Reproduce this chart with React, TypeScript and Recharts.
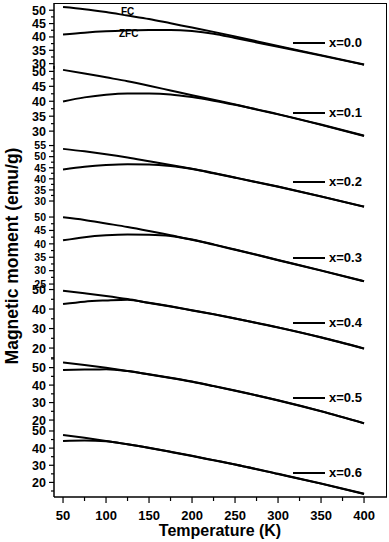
import React from 'react';
import { LineChart, Line, XAxis, YAxis } from 'recharts';

// temperature grid (K) shared by all samples
const temperature = [50, 75, 100, 125, 150, 175, 200, 225, 250, 300, 350, 400];

// magnetic moment (emu/g), FC and ZFC branches per composition
const fc0 = [51.2, 50.4, 49.3, 48.0, 46.7, 45.1, 43.5, 41.9, 40.2, 36.6, 33.2, 29.7];
const zfc0 = [40.9, 41.6, 42.1, 42.4, 42.6, 42.6, 42.2, 41.2, 39.6, 36.3, 33.0, 29.6];

const fc1 = [50.5, 49.3, 48.0, 46.7, 45.2, 43.6, 42.0, 40.5, 38.9, 35.7, 32.2, 28.5];
const zfc1 = [39.9, 41.3, 42.2, 42.6, 42.6, 42.3, 41.4, 40.2, 38.8, 35.6, 32.1, 28.4];

const fc2 = [53.5, 52.4, 51.1, 49.6, 47.9, 46.2, 44.5, 42.6, 40.6, 36.5, 32.1, 27.5];
const zfc2 = [44.2, 45.4, 46.2, 46.6, 46.5, 45.8, 44.4, 42.5, 40.5, 36.4, 32.0, 27.4];

const fc3 = [49.9, 48.9, 47.6, 46.3, 44.8, 43.2, 41.6, 39.8, 37.9, 34.0, 30.1, 26.1];
const zfc3 = [41.3, 42.5, 43.2, 43.5, 43.4, 42.9, 41.5, 39.7, 37.8, 33.9, 30.0, 26.0];

const fc4 = [49.4, 48.1, 46.7, 45.1, 43.2, 41.4, 39.4, 37.4, 35.2, 30.6, 25.5, 19.8];
const zfc4 = [42.6, 43.8, 44.4, 44.8, 43.1, 41.3, 39.3, 37.3, 35.1, 30.5, 25.4, 19.7];

const fc5 = [52.9, 51.5, 49.9, 48.1, 46.2, 44.2, 42.0, 39.5, 36.9, 31.3, 25.1, 18.2];
const zfc5 = [48.7, 48.9, 49.0, 48.0, 46.1, 44.1, 41.9, 39.4, 36.8, 31.2, 25.0, 18.1];

const fc6 = [47.7, 46.0, 44.2, 42.3, 40.2, 37.9, 35.5, 33.0, 30.5, 25.0, 19.4, 13.4];
const zfc6 = [44.2, 44.4, 44.0, 42.2, 40.1, 37.8, 35.4, 32.9, 30.4, 24.9, 19.3, 13.3];

const sampleLabels = ['x=0.0', 'x=0.1', 'x=0.2', 'x=0.3', 'x=0.4', 'x=0.5', 'x=0.6'];

// axis ticks
const yTicks0 = [30, 32.5, 35, 37.5, 40, 42.5, 45, 47.5, 50];
const yTicks1 = [30, 32.5, 35, 37.5, 40, 42.5, 45, 47.5, 50];
const yTicks2 = [30, 32.5, 35, 37.5, 40, 42.5, 45, 47.5, 50, 52.5, 55];
const yTicks3 = [25, 27.5, 30, 32.5, 35, 37.5, 40, 42.5, 45, 47.5, 50];
const yTicks4 = [15, 20, 25, 30, 35, 40, 45, 50];
const yTicks5 = [20, 25, 30, 35, 40, 45, 50, 55];
const yTicks6 = [15, 20, 25, 30, 35, 40, 45, 50];
const xTicks = [50, 75, 100, 125, 150, 175, 200, 225, 250, 275, 300, 325, 350, 375, 400];

const fcSeries = [fc0, fc1, fc2, fc3, fc4, fc5, fc6];
const zfcSeries = [zfc0, zfc1, zfc2, zfc3, zfc4, zfc5, zfc6];
const yTickSets = [yTicks0, yTicks1, yTicks2, yTicks3, yTicks4, yTicks5, yTicks6];
const majorSteps = [5, 5, 5, 5, 10, 10, 10];

// layout (pixels) per panel
const layout = [
  { top: 0, height: 66, mt: 3, domain: [28.0, 52.7], font: 12.5, legendY: 40 },
  { top: 66, height: 72, mt: 0, domain: [27.7, 51.8], font: 12.5, legendY: 47 },
  { top: 138, height: 71, mt: 0, domain: [26.4, 58.4], font: 10.5, legendY: 44 },
  { top: 209, height: 78, mt: 0, domain: [23.9, 53.0], font: 10.5, legendY: 49 },
  { top: 287, height: 71, mt: 0, domain: [14.9, 51.3], font: 12.5, legendY: 36 },
  { top: 358, height: 68, mt: 0, domain: [16.6, 55.5], font: 12.5, legendY: 40 },
  { top: 426, height: 71, mt: 0, domain: [11.5, 52.9], font: 12.5, legendY: 47 },
];

const X_DOMAIN = [39.5, 426.7];
const W = 389;
const AXIS_W = 54;
const TICK = 5;
const TICK_MARGIN = 3;
const X_AXIS_H = 45;
const FONT = '"Liberation Sans", Arial, sans-serif';

const YTick = (props: any) => {
  const { x, y, payload, major, fontSize } = props;
  const ax = x + TICK + TICK_MARGIN;
  const isMajor = Math.abs(payload.value % major) < 1e-6;
  return (
    <g>
      <line x1={ax} x2={ax - (isMajor ? 5 : 3)} y1={y} y2={y} stroke="#000" strokeWidth={1.2} />
      {isMajor && (
        <text x={ax - 8} y={y} dy="0.36em" textAnchor="end" fontSize={fontSize} fontWeight="bold" fontFamily={FONT} fill="#000">
          {payload.value}
        </text>
      )}
    </g>
  );
};

const XTick = (props: any) => {
  const { x, y, payload } = props;
  const ay = y - TICK - TICK_MARGIN;
  const isMajor = payload.value % 50 === 0;
  return (
    <g>
      <line x1={x} x2={x} y1={ay} y2={ay + (isMajor ? 6 : 4)} stroke="#000" strokeWidth={1.2} />
      {isMajor && (
        <text x={x} y={ay + 18} dy="0.36em" textAnchor="middle" fontSize={13} fontWeight="bold" fontFamily={FONT} fill="#000">
          {payload.value}
        </text>
      )}
    </g>
  );
};

const Panel = ({ i }: { i: number }) => {
  const L = layout[i];
  const last = i === layout.length - 1;
  const data = temperature.map((t, k) => ({ t, fc: fcSeries[i][k], zfc: zfcSeries[i][k] }));
  const height = L.height + L.mt + (last ? X_AXIS_H : 0);
  return (
    <div style={{ position: 'absolute', left: 0, top: L.top, width: W, height }}>
      <LineChart width={W} height={height} data={data} margin={{ top: L.mt, right: 2, bottom: 0, left: 0 }}>
        <XAxis
          type="number"
          dataKey="t"
          domain={X_DOMAIN}
          allowDataOverflow
          ticks={xTicks}
          interval={0}
          hide={!last}
          height={X_AXIS_H}
          tickSize={TICK}
          tickMargin={TICK_MARGIN}
          tickLine={false}
          axisLine={{ stroke: '#000', strokeWidth: 1.5 }}
          tick={(p: any) => <XTick {...p} />}
        />
        <YAxis
          type="number"
          domain={L.domain}
          allowDataOverflow
          ticks={yTickSets[i]}
          interval={0}
          width={AXIS_W}
          tickSize={TICK}
          tickMargin={TICK_MARGIN}
          tickLine={false}
          axisLine={{ stroke: '#000', strokeWidth: 1.5 }}
          tick={(p: any) => <YTick {...p} major={majorSteps[i]} fontSize={L.font} />}
        />
        <Line type="monotone" dataKey="fc" stroke="#000" strokeWidth={2} dot={false} isAnimationActive={false} />
        <Line type="monotone" dataKey="zfc" stroke="#000" strokeWidth={2} dot={false} isAnimationActive={false} />
      </LineChart>
      <div style={{ position: 'absolute', left: 293, top: L.legendY + L.mt - 1, width: 32, height: 2, background: '#000' }} />
      <div style={{ position: 'absolute', left: 329, top: L.legendY + L.mt - 8, fontSize: 13, lineHeight: '16px', fontWeight: 'bold', fontFamily: FONT }}>
        {sampleLabels[i]}
      </div>
    </div>
  );
};

export default function App() {
  return (
    <div style={{ position: 'absolute', left: 0, top: 0, width: W, height: 542, background: '#fff', fontFamily: FONT, color: '#000' }}>
      <style>{'.recharts-surface{overflow:visible}'}</style>
      {layout.map((_, i) => (
        <Panel key={i} i={i} />
      ))}
      <div style={{ position: 'absolute', left: AXIS_W, top: 3, width: 387 - AXIS_W, height: 494, borderTop: '1px solid #000', borderRight: '1px solid #000', boxSizing: 'border-box', pointerEvents: 'none' }} />
      <div style={{ position: 'absolute', left: 121, top: 6, fontSize: 10, fontWeight: 'bold' }}>FC</div>
      <div style={{ position: 'absolute', left: 119, top: 28, fontSize: 10, fontWeight: 'bold' }}>ZFC</div>
      <div style={{ position: 'absolute', left: 220, top: 522, transform: 'translateX(-50%)', fontSize: 16, fontWeight: 'bold', whiteSpace: 'nowrap' }}>
        Temperature (K)
      </div>
      <div style={{ position: 'absolute', left: 12, top: 256, transform: 'translate(-50%, -50%) rotate(-90deg)', fontSize: 17.5, fontWeight: 'bold', whiteSpace: 'nowrap' }}>
        Magnetic moment (emu/g)
      </div>
    </div>
  );
}
